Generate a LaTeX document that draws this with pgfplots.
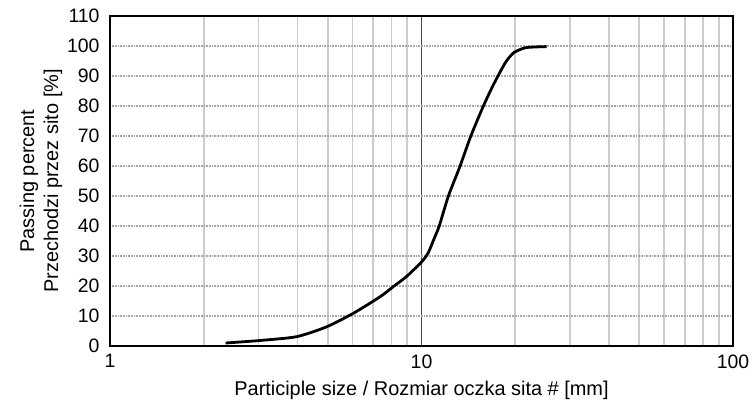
\documentclass[border=0pt]{standalone}
\usepackage{pgfplots}
\pgfplotsset{compat=1.18}
\usepackage{fontspec}
\setmainfont{Liberation Sans}
\newcommand{\tickfont}{\fontsize{19.5}{22}\selectfont}

\begin{document}
\begin{tikzpicture}[x=1bp,y=1bp]
\useasboundingbox (0,0) rectangle (752,407);
\begin{axis}[
    at={(110bp,61bp)}, anchor=south west,
    scale only axis,
    width=623bp, height=330bp,
    xmode=log,
    xmin=1, xmax=100,
    ymin=0, ymax=110,
    ytick={0,10,...,110},
    yticklabel={\tickfont\pgfmathprintnumber{\tick}},
    xtick={1,10,100},
    xticklabels={{\tickfont 1},{\tickfont 10},{\tickfont 100}},
    minor xtick={2,3,4,5,6,7,8,9,20,30,40,50,60,70,80,90},
    tick style={draw=none},
    axis line style={black, line width=1.2pt},
    ymajorgrids=true,
    xminorgrids=true,
    xmajorgrids=true,
    major y grid style={gray!70, line width=1.4pt, dash pattern=on 1pt off 0.6pt},
    major x grid style={black!70, line width=0.9pt},
    minor x grid style={black!20, line width=1.6pt},
    /pgf/number format/assume math mode=true,
    xticklabel style={yshift=-5pt},
    yticklabel style={xshift=-7pt},
    xlabel={Participle size / Rozmiar oczka sita \# [mm]},
    xlabel style={font=\fontsize{20}{22}\selectfont, yshift=-6pt},
    ylabel={Passing percent\\Przechodzi przez sito [\%]},
    ylabel style={font=\fontsize{20}{24}\selectfont, align=center, yshift=-2pt},
]
\addplot[black, line width=2.8pt, smooth, tension=0.4] coordinates {
    (2.35,1.0) (3.0,1.8) (3.97,3.1) (4.96,6.4) (6.04,10.9) (7.36,16.4)
    (8.12,19.8) (8.96,23.2) (10.0,28.0) (10.5,31.0) (11.0,36.0) (11.4,40.0)
    (12.2,50.0) (13.3,60.0) (14.4,70.0) (15.8,80.0) (17.0,87.0) (18.6,94.5)
    (19.8,97.8) (21.5,99.4) (23.5,99.7) (25.2,99.8)
};
\end{axis}
\end{tikzpicture}
\end{document}
